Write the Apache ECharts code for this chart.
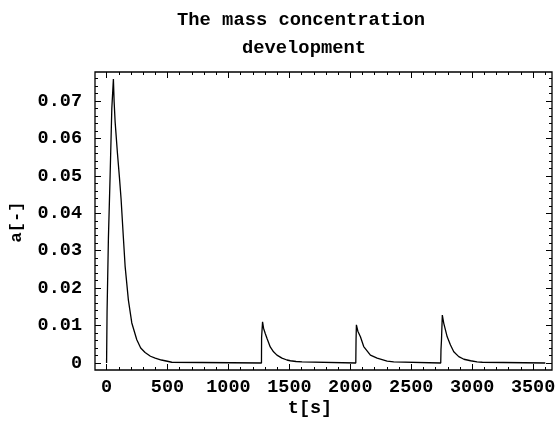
<!DOCTYPE html>
<html>
<head>
<meta charset="utf-8">
<script src="https://cdn.jsdelivr.net/npm/echarts@6/dist/echarts.min.js"></script>
<style>
  html, body { margin: 0; padding: 0; background: #fff; }
  #chart { width: 555px; height: 425px; }
</style>
</head>
<body>
<div id="chart"></div>
<script>
/*数据*/
var tValues = [0, 4, 15, 29, 43, 56, 62, 70, 89, 105, 119, 138, 152, 179, 207, 248, 280, 316, 360, 399, 450, 508, 535, 540,
               1271, 1272, 1280, 1288, 1302, 1316, 1343, 1370, 1398, 1439, 1480, 1508, 1555, 1604, 1606,
               2045, 2047, 2050, 2062, 2083, 2110, 2165, 2220, 2302, 2356, 2358,
               2742, 2744, 2748, 2755, 2767, 2795, 2822, 2849, 2890, 2932, 2987, 3040, 3083, 3085, 3600];
var aValues = [0, 0.0137, 0.0333, 0.05, 0.068, 0.0759, 0.0698, 0.0645, 0.0561, 0.0498, 0.0438, 0.0334, 0.0259, 0.0168, 0.0107, 0.0062, 0.004, 0.0028, 0.0018, 0.0013, 0.0008, 0.0004, 0.0002, 0,
               0, 0.0068, 0.011, 0.0093, 0.0079, 0.0066, 0.0043, 0.003, 0.0021, 0.0013, 0.0008, 0.0006, 0.0004, 0.0003, 0,
               0, 0.006, 0.0102, 0.0085, 0.007, 0.0044, 0.0021, 0.0013, 0.0005, 0.0003, 0,
               0, 0.0035, 0.006, 0.0128, 0.0106, 0.007, 0.0048, 0.003, 0.0017, 0.001, 0.0006, 0.0003, 0.0002, 0, 0];

var xMajorTicks = [0, 500, 1000, 1500, 2000, 2500, 3000, 3500];
var xMinorTicks = [0, 100, 200, 300, 400, 500, 600, 700, 800, 900, 1000, 1100, 1200, 1300, 1400, 1500, 1600, 1700,
                   1800, 1900, 2000, 2100, 2200, 2300, 2400, 2500, 2600, 2700, 2800, 2900, 3000, 3100, 3200, 3300,
                   3400, 3500, 3600];
var yMajorTicks = [0, 0.01, 0.02, 0.03, 0.04, 0.05, 0.06, 0.07];
var yMinorTicks = [0, 0.002, 0.004, 0.006, 0.008, 0.01, 0.012, 0.014, 0.016, 0.018, 0.02, 0.022, 0.024, 0.026,
                   0.028, 0.03, 0.032, 0.034, 0.036, 0.038, 0.04, 0.042, 0.044, 0.046, 0.048, 0.05, 0.052, 0.054,
                   0.056, 0.058, 0.06, 0.062, 0.064, 0.066, 0.068, 0.07, 0.072, 0.074, 0.076];

var seriesData = tValues.map(function (t, i) { return [t, aValues[i]]; });

var FONT = '"Liberation Mono", "DejaVu Sans Mono", monospace';
var X_MIN = -95, X_MAX = 3655;
var Y_MIN = -0.00187, Y_MAX = 0.07775;

function tickAxis(dim, pos, ticks, len, showLabel) {
    var axis = {
        type: 'value',
        position: pos,
        min: dim === 'x' ? X_MIN : Y_MIN,
        max: dim === 'x' ? X_MAX : Y_MAX,
        axisLine: { show: false, onZero: false },
        splitLine: { show: false },
        axisTick: {
            show: true,
            inside: true,
            length: len,
            customValues: ticks,
            lineStyle: { color: '#000', width: 1 }
        },
        axisLabel: { show: false }
    };
    if (showLabel) {
        axis.axisLabel = {
            show: true,
            customValues: ticks,
            color: '#000',
            fontFamily: FONT,
            fontWeight: 'bold',
            fontSize: 18.5,
            margin: dim === 'x' ? 8 : 13,
            formatter: function (v) {
                if (dim === 'x') return String(Math.round(v));
                return v === 0 ? '0' : v.toFixed(2);
            }
        };
    }
    return axis;
}

var myChart = echarts.init(document.getElementById('chart'));
var option = {
    animation: false,
    backgroundColor: '#fff',
    grid: {
        left: 95,
        right: 3,
        top: 72,
        bottom: 55,
        show: true,
        borderColor: '#000',
        borderWidth: 1.3,
        backgroundColor: 'transparent',
        outerBoundsMode: 'none'
    },
    graphic: [
        {   // 标题
            type: 'text',
            x: 301, y: 20,
            style: {
                text: 'The mass concentration',
                font: 'bold 18.8px ' + FONT,
                fill: '#000',
                textAlign: 'center',
                textVerticalAlign: 'middle'
            }
        },
        {
            type: 'text',
            x: 304, y: 48,
            style: {
                text: 'development',
                font: 'bold 18.8px ' + FONT,
                fill: '#000',
                textAlign: 'center',
                textVerticalAlign: 'middle'
            }
        },
        {   // y 轴名称
            type: 'text',
            x: 17, y: 222,
            rotation: Math.PI / 2,
            style: {
                text: 'a[-]',
                font: 'bold 17px ' + FONT,
                fill: '#000',
                textAlign: 'center',
                textVerticalAlign: 'middle'
            }
        },
        {   // x 轴名称
            type: 'text',
            x: 310, y: 408,
            style: {
                text: 't[s]',
                font: 'bold 18.5px ' + FONT,
                fill: '#000',
                textAlign: 'center',
                textVerticalAlign: 'middle'
            }
        }
    ],
    xAxis: [
        tickAxis('x', 'bottom', xMajorTicks, 6, true),
        tickAxis('x', 'bottom', xMinorTicks, 3, false),
        tickAxis('x', 'top', xMajorTicks, 6, false),
        tickAxis('x', 'top', xMinorTicks, 3, false)
    ],
    yAxis: [
        tickAxis('y', 'left', yMajorTicks, 6, true),
        tickAxis('y', 'left', yMinorTicks, 3, false),
        tickAxis('y', 'right', yMajorTicks, 6, false),
        tickAxis('y', 'right', yMinorTicks, 3, false)
    ],
    series: [{
        name: 'a',
        type: 'line',
        xAxisIndex: 0,
        yAxisIndex: 0,
        data: seriesData,
        showSymbol: false,
        symbol: 'none',
        lineStyle: { color: '#000', width: 1.3 }
    }]
};
myChart.setOption(option);
</script>
</body>
</html>
